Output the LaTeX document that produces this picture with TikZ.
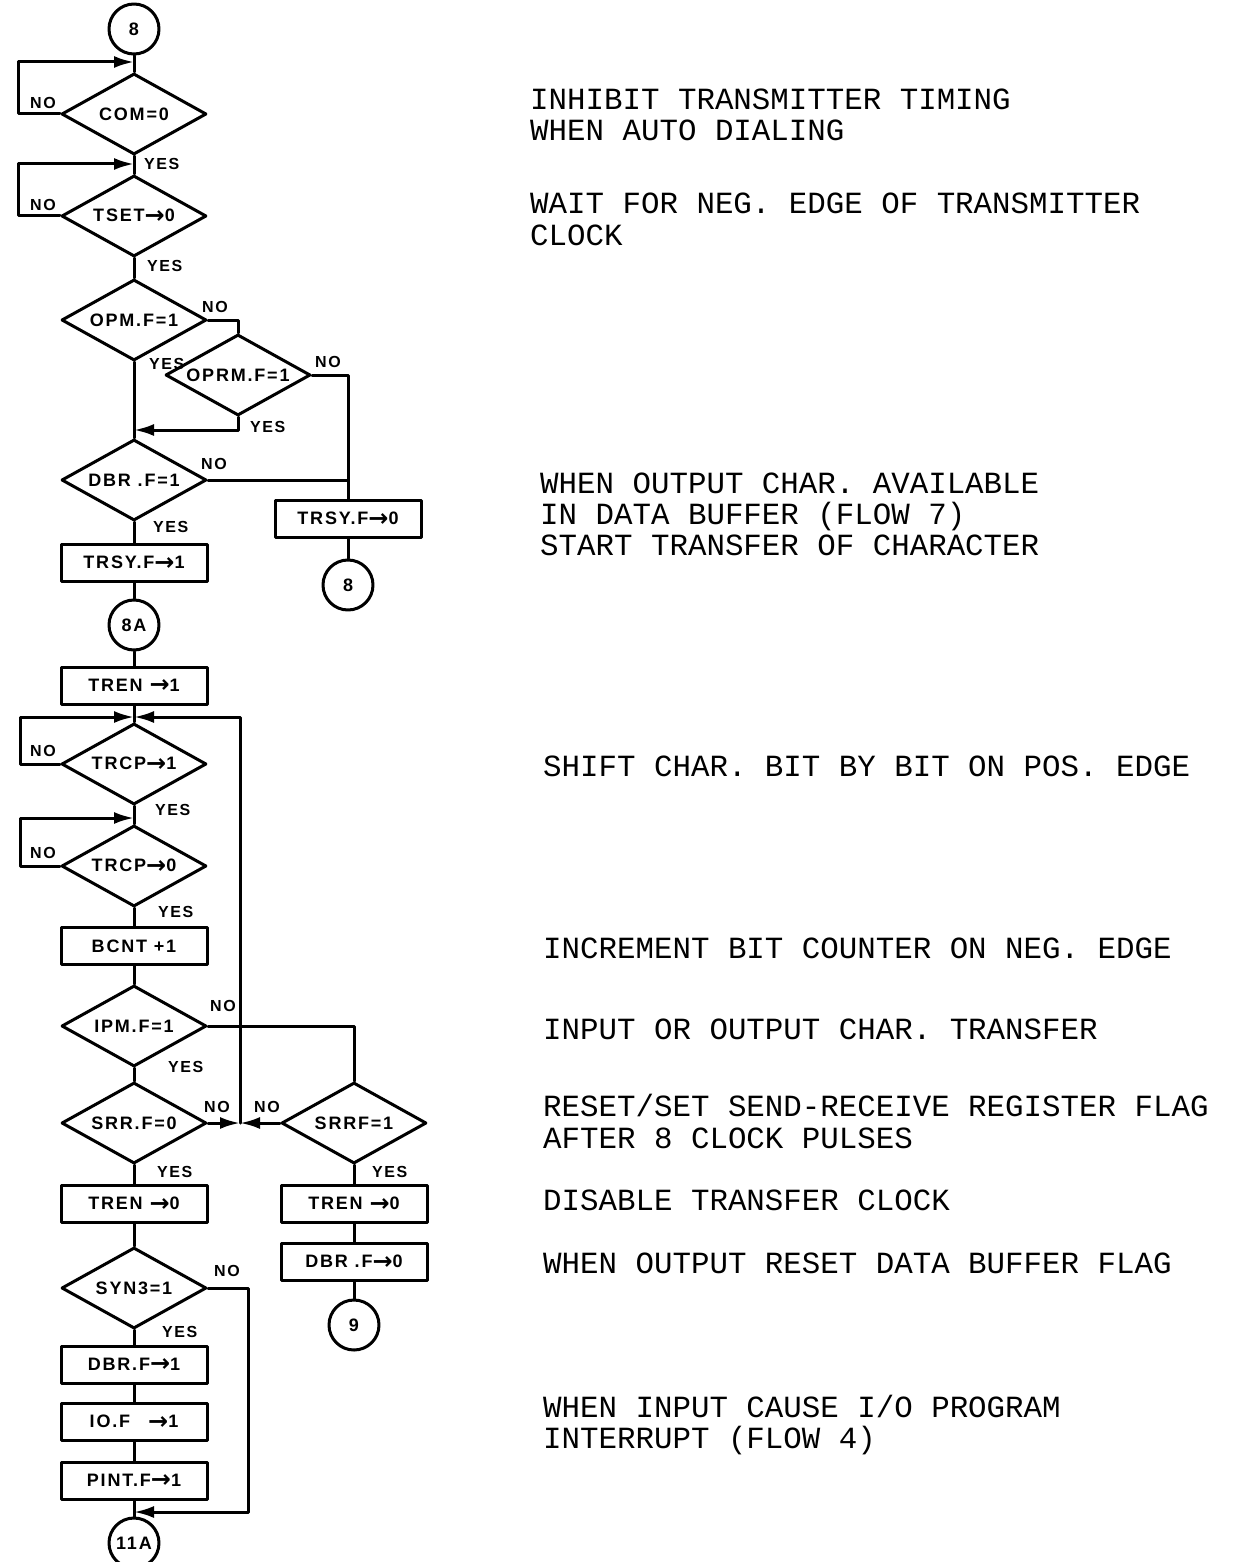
\documentclass[tikz,border=0pt]{standalone}
\usepackage{fontspec}
\setmainfont{Liberation Sans}
\newfontfamily\chartfont[LetterSpace=10]{Liberation Sans}
\newfontfamily\arrowfont{DejaVu Sans}
\newfontfamily\notefont{Liberation Mono}
\usetikzlibrary{shapes.geometric,arrows.meta}

% thick arrow sign used in the chart texts
\newcommand\flowarrow{{\arrowfont\bfseries\fontsize{24}{17}\selectfont\raisebox{-1.5pt}{→}}}

\tikzset{
  chart/.style={font=\chartfont\fontsize{18}{18}\selectfont\bfseries},
  decision/.style={diamond, draw, chart, line width=3pt, shape aspect=1.8, minimum width=145pt, minimum height=81pt, inner sep=0pt},
  block/.style={rectangle, draw, chart, line width=3pt, minimum width=146pt, minimum height=37pt, inner sep=0pt},
  connector/.style={circle, draw, chart, line width=3pt, minimum size=50pt, inner sep=0pt},
  answer/.style={chart, font=\chartfont\fontsize{16}{16}\selectfont\bfseries, inner sep=1pt},
  note/.style={anchor=base west, inner sep=0pt, font=\notefont\fontsize{30.8}{31}\selectfont},
  flow/.style={line width=3pt},
  arr/.style={flow, -{Latex[length=20pt,width=12pt]}},
}

\begin{document}
\begin{tikzpicture}[x=1pt,y=-1pt, line join=round, line cap=round]
  \useasboundingbox (0,0) rectangle (1241,1562);

  % main column
  \node[connector] (c8) at (134,29) {8};
  \coordinate (j1) at (134,62);
  \node[decision] (com) at (134,114) {COM=0};
  \coordinate (j2) at (134,164);
  \node[decision] (tset) at (134,216) {TSET\flowarrow 0};
  \node[decision] (opm) at (134,320) {OPM.F=1};
  \node[decision] (oprm) at (238,375) {OPRM.F=1};
  \coordinate (j3) at (134,430);
  \node[decision] (dbr) at (134,480) {DBR .F=1};
  \node[block] (trsy1) at (134,563) {TRSY.F\flowarrow 1};
  \node[block] (trsy0) at (348,519) {TRSY.F\flowarrow 0};
  \node[connector] (c8b) at (348,585) {8};
  \node[connector] (c8a) at (134,625) {8A};
  \node[block] (tren1) at (134,686) {TREN \flowarrow 1};
  \coordinate (j4) at (134,717);
  \node[decision] (trcp1) at (134,764) {TRCP\flowarrow 1};
  \coordinate (j5) at (134,818);
  \node[decision] (trcp0) at (134,866) {TRCP\flowarrow 0};
  \node[block] (bcnt) at (134,946) {BCNT +1};
  \node[decision] (ipm) at (134,1026) {IPM.F=1};
  \node[decision] (srr) at (134,1123) {SRR.F=0};
  \coordinate (j6) at (240,1123);
  \node[decision] (srrf) at (354,1123) {SRRF=1};
  \node[block] (tren0a) at (134,1204) {TREN \flowarrow 0};
  \node[block] (tren0b) at (354,1204) {TREN \flowarrow 0};
  \node[block] (dbr0) at (354,1262) {DBR .F\flowarrow 0};
  \node[connector] (c9) at (354,1325) {9};
  \node[decision] (syn) at (134,1288) {SYN3=1};
  \node[block] (dbr1) at (134,1365) {DBR.F\flowarrow 1};
  \node[block] (iof) at (134,1422) {IO.F\quad \flowarrow 1};
  \node[block] (pint) at (134,1481) {PINT.F\flowarrow 1};
  \coordinate (j7) at (134,1512);
  \node[connector] (c11) at (134,1543) {11A};

  % connectors
  \draw[flow] (c8) -- (com);
  \draw[arr] (com.west) -- ++(-42,0) |- (j1);
  \draw[flow] (com) -- (tset);
  \draw[arr] (tset.west) -- ++(-42,0) |- (j2);
  \draw[flow] (tset) -- (opm);
  \draw[flow] (opm.east) -| (oprm.north);
  \draw[flow] (opm.south) -- (dbr.north);
  \draw[arr] (oprm.south) |- (j3);
  \draw[flow] (oprm.east) -| (trsy0.north);
  \draw[flow] (dbr.east) -- (dbr.east -| trsy0.north);
  \draw[flow] (dbr) -- (trsy1);
  \draw[flow] (trsy0) -- (c8b);
  \draw[flow] (trsy1) -- (c8a);
  \draw[flow] (c8a) -- (tren1);
  \draw[flow] (tren1) -- (trcp1);
  \draw[arr] (trcp1.west) -- ++(-40,0) |- (j4);
  \draw[flow] (trcp1) -- (trcp0);
  \draw[arr] (trcp0.west) -- ++(-40,0) |- (j5);
  \draw[flow] (trcp0) -- (bcnt);
  \draw[flow] (bcnt) -- (ipm);
  \draw[flow] (ipm) -- (srr);
  \draw[flow] (ipm.east) -| (srrf.north);
  \draw[arr] (srr.east) -- (j6);
  \draw[arr] (srrf.west) -- (j6);
  \draw[arr] (j6) |- (j4);
  \draw[flow] (srr) -- (tren0a);
  \draw[flow] (srrf) -- (tren0b);
  \draw[flow] (tren0b) -- (dbr0);
  \draw[flow] (dbr0) -- (c9);
  \draw[flow] (tren0a) -- (syn);
  \draw[flow] (syn) -- (dbr1);
  \draw[flow] (dbr1) -- (iof);
  \draw[flow] (iof) -- (pint);
  \draw[flow] (pint) -- (c11);
  \draw[arr] (syn.east) -- ++(40,0) |- (j7);

  % yes / no
  \node[answer, anchor=south east] (no1) at ([xshift=-3pt,yshift=4pt]com.west) {NO};
  \node[answer, anchor=south east] (no2) at ([xshift=-3pt,yshift=4pt]tset.west) {NO};
  \node[answer, anchor=north west] (yes1) at ([xshift=9pt,yshift=-1pt]com.south) {YES};
  \node[answer, anchor=north west] (yes2) at ([xshift=12pt,yshift=-1pt]tset.south) {YES};
  \node[answer, anchor=south west] (no3) at ([xshift=-7pt,yshift=6pt]opm.east) {NO};
  \node[answer, anchor=north west] (yes3) at ([xshift=14pt,yshift=5pt]opm.south) {YES};
  \node[answer, anchor=south west] (no4) at ([xshift=2pt,yshift=6pt]oprm.east) {NO};
  \node[answer, anchor=north west] (yes4) at ([xshift=11pt,yshift=-3pt]oprm.south) {YES};
  \node[answer, anchor=south west] (no5) at ([xshift=-8pt,yshift=9pt]dbr.east) {NO};
  \node[answer, anchor=north west] (yes5) at ([xshift=18pt,yshift=2pt]dbr.south) {YES};
  \node[answer, anchor=south east] (no6) at ([xshift=-3pt,yshift=6pt]trcp1.west) {NO};
  \node[answer, anchor=north west] (yes6) at ([xshift=20pt,yshift=3pt]trcp1.south) {YES};
  \node[answer, anchor=south east] (no7) at ([xshift=-3pt,yshift=6pt]trcp0.west) {NO};
  \node[answer, anchor=north west] (yes7) at ([xshift=23pt,yshift=3pt]trcp0.south) {YES};
  \node[answer, anchor=south west] (no8) at ([xshift=1pt,yshift=13pt]ipm.east) {NO};
  \node[answer, anchor=north west] (yes8) at ([xshift=33pt,yshift=8pt]ipm.south) {YES};
  \node[answer, anchor=south west] (no9) at ([xshift=-5pt,yshift=9pt]srr.east) {NO};
  \node[answer, anchor=north west] (yes9) at ([xshift=22pt,yshift=0pt]srr.south) {YES};
  \node[answer, anchor=south east] (no10) at ([xshift=1pt,yshift=9pt]srrf.west) {NO};
  \node[answer, anchor=north west] (yes10) at ([xshift=17pt,yshift=0pt]srrf.south) {YES};
  \node[answer, anchor=south west] (no11) at ([xshift=5pt,yshift=10pt]syn.east) {NO};
  \node[answer, anchor=north west] (yes11) at ([xshift=27pt,yshift=5pt]syn.south) {YES};

  % remarks
  \node[note] (r1) at (530,110) {INHIBIT TRANSMITTER TIMING};
  \node[note] (r2) at (530,141) {WHEN AUTO DIALING};
  \node[note] (r3) at (530,214) {WAIT FOR NEG. EDGE OF TRANSMITTER};
  \node[note] (r4) at (530,246) {CLOCK};
  \node[note] (r5) at (540,493) {WHEN OUTPUT CHAR. AVAILABLE};
  \node[note] (r6) at (540,524) {IN DATA BUFFER (FLOW 7)};
  \node[note] (r7) at (540,555) {START TRANSFER OF CHARACTER};
  \node[note] (r8) at (543,776) {SHIFT CHAR. BIT BY BIT ON POS. EDGE};
  \node[note] (r9) at (543,958) {INCREMENT BIT COUNTER ON NEG. EDGE};
  \node[note] (r10) at (543,1039) {INPUT OR OUTPUT CHAR. TRANSFER};
  \node[note] (r11) at (543,1116) {RESET/SET SEND-RECEIVE REGISTER FLAG};
  \node[note] (r12) at (543,1148) {AFTER 8 CLOCK PULSES};
  \node[note] (r13) at (543,1210) {DISABLE TRANSFER CLOCK};
  \node[note] (r14) at (543,1273) {WHEN OUTPUT RESET DATA BUFFER FLAG};
  \node[note] (r15) at (543,1417) {WHEN INPUT CAUSE I/O PROGRAM};
  \node[note] (r16) at (543,1448) {INTERRUPT (FLOW 4)};
\end{tikzpicture}
\end{document}
